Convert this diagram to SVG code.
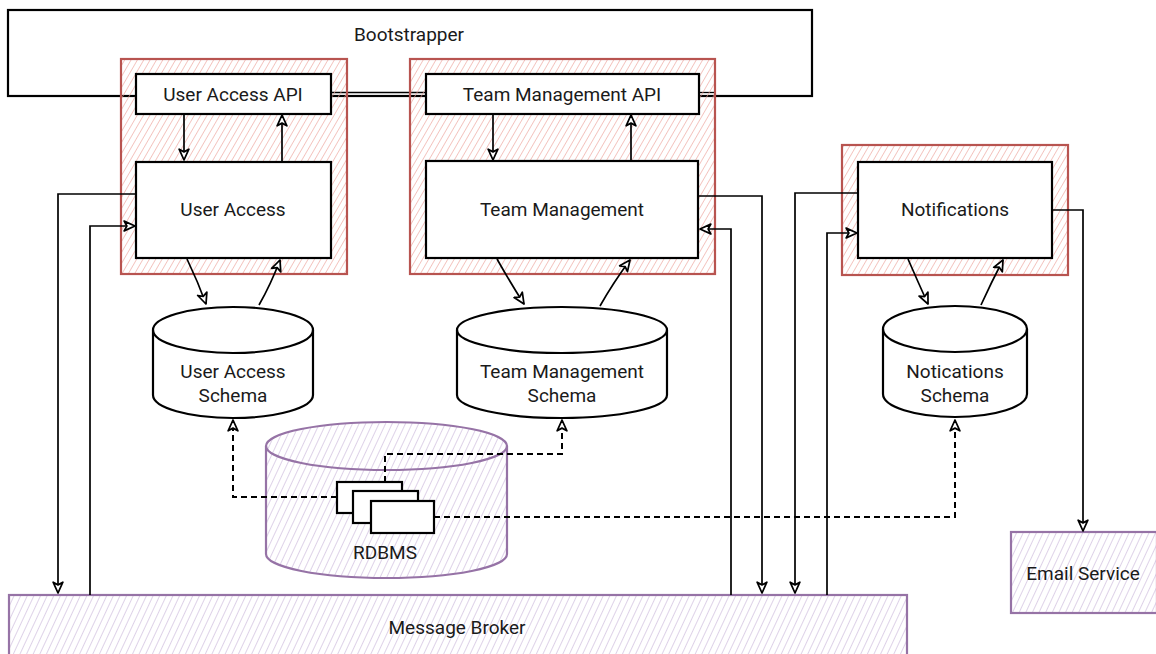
<svg xmlns="http://www.w3.org/2000/svg" width="1156" height="654" viewBox="0 0 1156 654">
<defs>
<pattern id="hr" patternUnits="userSpaceOnUse" width="5.5" height="6" patternTransform="rotate(30)">
<line x1="0" y1="0" x2="0" y2="6" stroke="#eda29b" stroke-width="1.2"/>
</pattern>
<pattern id="hp" patternUnits="userSpaceOnUse" width="6" height="6" patternTransform="rotate(25)">
<line x1="0" y1="0" x2="0" y2="6" stroke="#c7b3d8" stroke-width="1.2"/>
</pattern>
<marker id="ah" viewBox="0 0 12 12" refX="11" refY="6" markerWidth="13" markerHeight="13" markerUnits="userSpaceOnUse" orient="auto">
<path d="M1,1.5 L11,6 L1,10.5 L3.5,6 Z" fill="#fff" stroke="#000" stroke-width="1.6" stroke-linejoin="round"/>
</marker>
</defs>
<style>
text{font-family:Roboto,"Liberation Sans",sans-serif;font-size:19px;fill:#1a1a1a;text-anchor:middle}
.box{fill:#fff;stroke:#000;stroke-width:2.2}
.grp{fill:url(#hr);stroke:#b85450;stroke-width:2.2}
.pur{fill:url(#hp);stroke:#9673a6;stroke-width:2.2}
.cyl{fill:#fff;stroke:#000;stroke-width:2.2}
.ar{fill:none;stroke:#000;stroke-width:1.7;marker-end:url(#ah)}
.da{fill:none;stroke:#000;stroke-width:2;stroke-dasharray:6 4;marker-end:url(#ah)}
</style>
<g id="bootstrapper">
<rect x="8" y="10" width="804" height="86" fill="#fff" stroke="#000" stroke-width="2.2"/>
<line x1="331" y1="92.5" x2="426" y2="92.5" stroke="#000" stroke-width="1.3"/>
<line x1="699" y1="92.5" x2="715" y2="92.5" stroke="#000" stroke-width="1.3"/>
<text x="409" y="41">Bootstrapper</text>
</g>
<g id="message-broker">
<rect class="pur" x="9" y="595" width="898" height="62"/>
<text x="457" y="634">Message Broker</text>
</g>
<g id="email-service">
<rect class="pur" x="1011" y="532" width="146" height="81"/>
<text x="1083" y="580">Email Service</text>
</g>
<g id="rdbms">
<path class="pur" d="M266,446 A120.5,24 0 0 1 507,446 L507,554 A120.5,24 0 0 1 266,554 Z"/>
<path d="M266,446 A120.5,24 0 0 0 507,446" fill="none" stroke="#9673a6" stroke-width="2.2"/>
<text x="385" y="559">RDBMS</text>
</g>
<g id="schema-instances">
<rect class="box" x="337" y="482" width="65" height="31"/>
<rect class="box" x="353" y="491" width="65" height="32"/>
<rect class="box" x="371" y="501" width="63" height="32"/>
</g>
<g id="user-access-group">
<rect class="grp" x="121" y="59" width="226" height="215"/>
</g>
<g id="team-management-group">
<rect class="grp" x="410" y="59" width="305" height="215"/>
</g>
<g id="notifications-group">
<rect class="grp" x="842" y="145" width="226" height="130"/>
</g>
<g id="user-access-api">
<rect class="box" x="136" y="74" width="195" height="40"/>
<text x="233" y="101">User Access API</text>
</g>
<g id="user-access">
<rect class="box" x="136" y="162" width="195" height="96"/>
<text x="233" y="216">User Access</text>
</g>
<g id="team-management-api">
<rect class="box" x="426" y="74" width="273" height="40"/>
<text x="562" y="101">Team Management API</text>
</g>
<g id="team-management">
<rect class="box" x="426" y="161" width="272" height="97"/>
<text x="562" y="216">Team Management</text>
</g>
<g id="notifications">
<rect class="box" x="858" y="162" width="194" height="96"/>
<text x="955" y="216">Notifications</text>
</g>
<g id="user-access-schema">
<path class="cyl" d="M153,330 A80,23 0 0 1 313,330 L313,395 A80,23 0 0 1 153,395 Z"/>
<path d="M153,330 A80,23 0 0 0 313,330" fill="none" stroke="#000" stroke-width="2.2"/>
<text x="233" y="378">User Access</text>
<text x="233" y="402">Schema</text>
</g>
<g id="team-management-schema">
<path class="cyl" d="M457,330 A105,23 0 0 1 667,330 L667,395 A105,23 0 0 1 457,395 Z"/>
<path d="M457,330 A105,23 0 0 0 667,330" fill="none" stroke="#000" stroke-width="2.2"/>
<text x="562" y="378">Team Management</text>
<text x="562" y="402">Schema</text>
</g>
<g id="notications-schema">
<path class="cyl" d="M883,329 A72,23 0 0 1 1027,329 L1027,394 A72,23 0 0 1 883,394 Z"/>
<path d="M883,329 A72,23 0 0 0 1027,329" fill="none" stroke="#000" stroke-width="2.2"/>
<text x="955" y="378">Notications</text>
<text x="955" y="402">Schema</text>
</g>
<g id="connectors">
<path class="ar" d="M184,114 L184,160"/>
<path class="ar" d="M282,162 L282,115"/>
<path class="ar" d="M493,114 L493,160"/>
<path class="ar" d="M631,161 L631,115"/>
<path class="ar" d="M187,259 Q198,282 206,304"/>
<path class="ar" d="M259,305 Q271,284 280,260"/>
<path class="ar" d="M497,259 Q510,282 524,304"/>
<path class="ar" d="M600,306 Q613,283 630,260"/>
<path class="ar" d="M908,259 Q918,282 928,304"/>
<path class="ar" d="M981,305 Q991,283 1003,260"/>
<path class="ar" d="M136,194 L58,194 L58,593"/>
<path class="ar" d="M90,595 L90,226 L135,226"/>
<path class="ar" d="M698,196 L762,196 L762,593"/>
<path class="ar" d="M731,595 L731,229 L700,229"/>
<path class="ar" d="M858,193 L795,193 L795,593"/>
<path class="ar" d="M827,595 L827,233 L857,233"/>
<path class="ar" d="M1052,210 L1083,210 L1083,531"/>
<path class="da" d="M337,497 L233,497 L233,420"/>
<path class="da" d="M385,482 L385,454 L562,454 L562,420"/>
<path class="da" d="M434,517 L955,517 L955,420"/>
</g>
</svg>
